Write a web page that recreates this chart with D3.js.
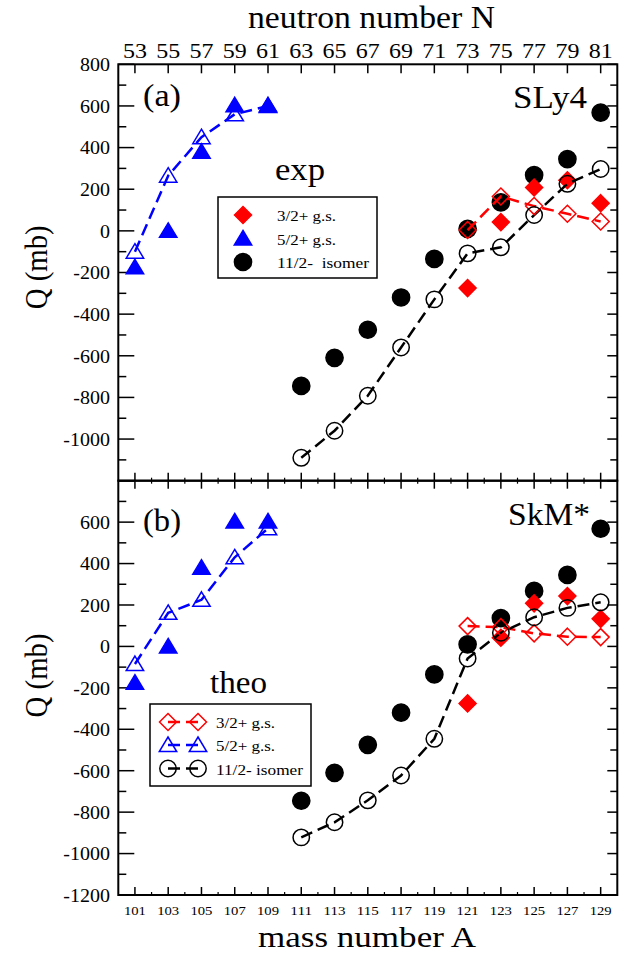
<!DOCTYPE html>
<html>
<head>
<meta charset="utf-8">
<script src="https://cdn.jsdelivr.net/npm/d3@7"></script>
<style>
  body { margin: 0; background: #fff; }
</style>
</head>
<body>
<div id="container"></div>
<script>
// mass numbers
var oddA_light = [101, 103, 105, 107, 109];
var oddA_heavy = [111, 113, 115, 117, 119, 121, 123, 125, 127, 129];
var oddA_red = [121, 123, 125, 127, 129];
var tickA = [101, 103, 105, 107, 109, 111, 113, 115, 117, 119, 121, 123, 125, 127, 129];

// experiment (same in both panels)
var expQ52 = [-175, 0, 380, 603, 603];
var expQ32 = [-275, 42, 208, 243, 133];
var expQ112 = [-745, -610, -475, -320, -135, 10, 137, 268, 345, 568];

// SLy4
var slyQ52 = [-100, 265, 450, 560, 600];
var slyQ32 = [4, 165, 119, 82, 45];
var slyQ112 = [-1090, -960, -792, -560, -329, -108, -79, 76, 226, 297];

// SkM*
var skmQ52 = [-85, 162, 225, 430, 570];
var skmQ32 = [98, 93, 63, 47, 45];
var skmQ112 = [-922, -849, -743, -623, -446, -58, 66, 141, 186, 213];

var legendLabels = ["3/2+ g.s.", "5/2+ g.s.", "11/2-\u00a0 isomer"];
var legendLabelsTheo = ["3/2+ g.s.", "5/2+ g.s.", "11/2- isomer"];

var width = 635, height = 954;
var left = 118.3, right = 617.3;
var red = "#ff0000", blue = "#0000ff", black = "#000000";
var serif = "'Liberation Serif', 'Times New Roman', Times, 'DejaVu Serif', serif";

var svg = d3.select("#container").append("svg")
  .attr("width", width).attr("height", height)
  .attr("font-family", serif);

var x = d3.scaleLinear().domain([100, 130]).range([left, right]);

function zip(xs, ys) { return xs.map(function (a, i) { return [a, ys[i]]; }); }

// squeeze the wide fallback serif to Times-like widths
function fit(sel, len) {
  return sel.attr("textLength", len).attr("lengthAdjust", "spacingAndGlyphs");
}
function numWidth(s, em) {
  var w = 0;
  String(s).split("").forEach(function (c) { w += (c === "-" ? 0.333 : 0.5) * em; });
  return w;
}

// marker shapes
function diamond(g, cx, cy, color, filled) {
  var s = 8.5;
  g.append("path")
    .attr("d", "M" + cx + "," + (cy - s) + "L" + (cx + s) + "," + cy + "L" + cx + "," + (cy + s) + "L" + (cx - s) + "," + cy + "Z")
    .attr("fill", filled ? color : "none").attr("stroke", color).attr("stroke-width", 1.5);
}
function triangle(g, cx, cy, color, filled) {
  g.append("path")
    .attr("d", "M" + cx + "," + (cy - 8) + "L" + (cx + 8.7) + "," + (cy + 6.5) + "L" + (cx - 8.7) + "," + (cy + 6.5) + "Z")
    .attr("fill", filled ? color : "none").attr("stroke", color).attr("stroke-width", 1.5);
}
function circle(g, cx, cy, color, filled) {
  g.append("circle").attr("cx", cx).attr("cy", cy).attr("r", filled ? 8.6 : 8.2)
    .attr("fill", filled ? color : "none").attr("stroke", color).attr("stroke-width", 1.5);
}

function drawPanel(cfg) {
  var y = d3.scaleLinear().domain([-1200, 800]).range([cfg.bottom, cfg.top]);
  var g = svg.append("g");

  // y ticks left / right
  d3.range(-1200, 801, 100).forEach(function (v) {
    var major = v % 200 === 0;
    g.append("line").attr("x1", left).attr("x2", left + (major ? 16 : 8))
      .attr("y1", y(v)).attr("y2", y(v)).attr("stroke", "#000").attr("stroke-width", 1.5);
    g.append("line").attr("x1", right).attr("x2", right - (major ? 10 : 7))
      .attr("y1", y(v)).attr("y2", y(v)).attr("stroke", "#000").attr("stroke-width", 1.5);
  });
  g.selectAll("text.ylab").data(cfg.yLabels).enter().append("text")
    .attr("class", "ylab").attr("x", 110).attr("y", function (d) { return y(d); })
    .attr("dy", "0.36em").attr("text-anchor", "end").attr("font-size", 19)
    .attr("textLength", function (d) { return numWidth(d, 20); })
    .attr("lengthAdjust", "spacingAndGlyphs")
    .text(function (d) { return d; });

  // x ticks on top and bottom edge of panel (inward)
  tickA.forEach(function (a) {
    g.append("line").attr("x1", x(a)).attr("x2", x(a)).attr("y1", cfg.top).attr("y2", cfg.top + cfg.topTick)
      .attr("stroke", "#000").attr("stroke-width", 1.5);
    g.append("line").attr("x1", x(a)).attr("x2", x(a)).attr("y1", cfg.bottom).attr("y2", cfg.bottom - 8)
      .attr("stroke", "#000").attr("stroke-width", 1.5);
  });
  d3.range(102, 129, 2).forEach(function (a) {
    if (cfg.minorTop) {
      g.append("line").attr("x1", x(a)).attr("x2", x(a)).attr("y1", cfg.top).attr("y2", cfg.top + 3)
        .attr("stroke", "#000").attr("stroke-width", 1.2);
    }
    g.append("line").attr("x1", x(a)).attr("x2", x(a)).attr("y1", cfg.bottom).attr("y2", cfg.bottom - 3)
      .attr("stroke", "#000").attr("stroke-width", 1.2);
  });

  // frame
  g.append("rect").attr("x", left).attr("y", cfg.top).attr("width", right - left)
    .attr("height", cfg.bottom - cfg.top).attr("fill", "none").attr("stroke", "#000").attr("stroke-width", 2);

  // experimental points
  zip(oddA_heavy, expQ112).forEach(function (p) { circle(g, x(p[0]), y(p[1]), black, true); });
  zip(oddA_red, expQ32).forEach(function (p) { diamond(g, x(p[0]), y(p[1]), red, true); });
  zip(oddA_light, expQ52).forEach(function (p) { triangle(g, x(p[0]), y(p[1]), blue, true); });

  // theory lines + open markers
  var line = d3.line().x(function (d) { return x(d[0]); }).y(function (d) { return y(d[1]); });
  var series = [
    { pts: zip(oddA_red, cfg.q32), color: red, mark: diamond },
    { pts: zip(oddA_light, cfg.q52), color: blue, mark: triangle },
    { pts: zip(oddA_heavy, cfg.q112), color: black, mark: circle }
  ];
  series.forEach(function (s) {
    g.append("path").datum(s.pts).attr("d", line).attr("fill", "none")
      .attr("stroke", s.color).attr("stroke-width", 2.5).attr("stroke-dasharray", "12,6");
  });
  series.forEach(function (s) {
    s.pts.forEach(function (p) { s.mark(g, x(p[0]), y(p[1]), s.color, false); });
  });

  fit(g.append("text").attr("x", 143).attr("y", cfg.tagY).attr("font-size", 31).text(cfg.tag), 38);
  fit(g.append("text").attr("x", cfg.nameX).attr("y", cfg.nameY).attr("font-size", 31).text(cfg.name), cfg.nameW);
  fit(g.append("text").attr("x", cfg.kindX).attr("y", cfg.kindY).attr("font-size", 31).text(cfg.kind), cfg.kindW);

  fit(g.append("text")
    .attr("transform", "translate(47," + y(cfg.qMid) + ") rotate(-90)")
    .attr("x", -42).attr("font-size", 31).text("Q (mb)"), 84);
  return g;
}

var gA = drawPanel({
  top: 64.3, bottom: 480.7, topTick: 9, minorTop: false,
  yLabels: [800, 600, 400, 200, 0, -200, -400, -600, -800, -1000],
  q52: slyQ52, q32: slyQ32, q112: slyQ112, qMid: -175,
  tag: "(a)", tagY: 106, name: "SLy4", nameX: 513, nameW: 74, nameY: 108,
  kind: "exp", kindX: 275, kindW: 50, kindY: 180
});
var gB = drawPanel({
  top: 480.7, bottom: 895, topTick: 8, minorTop: true,
  yLabels: [600, 400, 200, 0, -200, -400, -600, -800, -1000, -1200],
  q52: skmQ52, q32: skmQ32, q112: skmQ112, qMid: -140,
  tag: "(b)", tagY: 531, name: "SkM*", nameX: 508, nameW: 82, nameY: 525,
  kind: "theo", kindX: 210, kindW: 57, kindY: 693
});

// legend (a): experimental symbols
var legA = svg.append("g");
legA.append("rect").attr("x", 218).attr("y", 197).attr("width", 159).attr("height", 81)
  .attr("fill", "#fff").attr("stroke", "#000").attr("stroke-width", 1.5);
var legRowsA = [215, 238.5, 262];
var legWidthsA = [59, 59, 92];
var legMarks = [diamond, triangle, circle];
var legColors = [red, blue, black];
legRowsA.forEach(function (ry, i) {
  legMarks[i](legA, 243, ry, legColors[i], true);
  fit(legA.append("text").attr("x", 277).attr("y", ry + 6).attr("font-size", 15.5).text(legendLabels[i]), legWidthsA[i]);
});

// legend (b): theory symbols with dashed segment
var legB = svg.append("g");
legB.append("rect").attr("x", 150).attr("y", 704).attr("width", 161).attr("height", 82)
  .attr("fill", "#fff").attr("stroke", "#000").attr("stroke-width", 1.5);
var legRowsB = [722, 745, 768.5];
var legWidthsB = [59, 59, 87];
legRowsB.forEach(function (ry, i) {
  legB.append("line").attr("x1", 168).attr("x2", 198).attr("y1", ry).attr("y2", ry)
    .attr("stroke", legColors[i]).attr("stroke-width", 2.5).attr("stroke-dasharray", "12,6");
  legMarks[i](legB, 168, ry, legColors[i], false);
  legMarks[i](legB, 198, ry, legColors[i], false);
  fit(legB.append("text").attr("x", 216).attr("y", ry + 6).attr("font-size", 15.5).text(legendLabelsTheo[i]), legWidthsB[i]);
});

// top axis labels: neutron number N = A - 48
svg.selectAll("text.nlab").data(tickA).enter().append("text")
  .attr("class", "nlab").attr("x", function (d) { return x(d); }).attr("y", 58)
  .attr("text-anchor", "middle").attr("font-size", 22)
  .attr("textLength", 24).attr("lengthAdjust", "spacingAndGlyphs")
  .text(function (d) { return d - 48; });
fit(svg.append("text").attr("x", 248).attr("y", 28).attr("font-size", 31)
  .text("neutron number N"), 247);

// bottom axis labels: mass number A
svg.selectAll("text.alab").data(tickA).enter().append("text")
  .attr("class", "alab").attr("x", function (d) { return x(d); }).attr("y", 915)
  .attr("text-anchor", "middle").attr("font-size", 13)
  .attr("textLength", 22).attr("lengthAdjust", "spacingAndGlyphs")
  .text(function (d) { return d; });
fit(svg.append("text").attr("x", 258).attr("y", 947).attr("font-size", 29)
  .text("mass number A"), 218);
</script>
</body>
</html>
